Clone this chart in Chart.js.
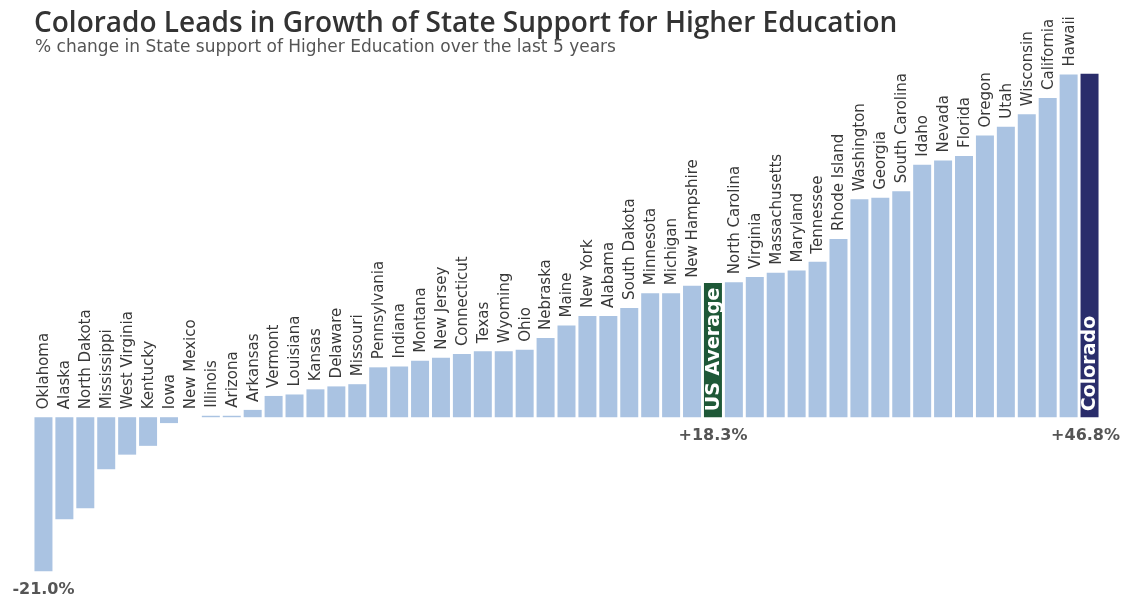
<!DOCTYPE html>
<html>
<head>
<meta charset="utf-8">
<script src="https://cdn.jsdelivr.net/npm/chart.js@4"></script>
<style>
  html, body { margin: 0; padding: 0; background: #fff; }
  canvas { display: block; }
</style>
</head>
<body>
<canvas id="growthChart" width="1123" height="600"></canvas>
<script>
// % change in state support for higher education, last 5 years
const states = [
    'Oklahoma', 'Alaska', 'North Dakota', 'Mississippi', 'West Virginia', 'Kentucky', 'Iowa',
    'New Mexico', 'Illinois', 'Arizona', 'Arkansas', 'Vermont', 'Louisiana', 'Kansas',
    'Delaware', 'Missouri', 'Pennsylvania', 'Indiana', 'Montana', 'New Jersey', 'Connecticut',
    'Texas', 'Wyoming', 'Ohio', 'Nebraska', 'Maine', 'New York', 'Alabama', 'South Dakota',
    'Minnesota', 'Michigan', 'New Hampshire', 'US Average', 'North Carolina', 'Virginia',
    'Massachusetts', 'Maryland', 'Tennessee', 'Rhode Island', 'Washington', 'Georgia',
    'South Carolina', 'Idaho', 'Nevada', 'Florida', 'Oregon', 'Utah', 'Wisconsin',
    'California', 'Hawaii', 'Colorado'
];
const pctChange = [
    -21.0, -13.9, -12.4, -7.1, -5.1, -3.9, -0.8,
    0.0, 0.2, 0.2, 1.0, 2.9, 3.1, 3.8,
    4.2, 4.5, 6.8, 6.9, 7.7, 8.1, 8.6,
    9.0, 9.0, 9.2, 10.8, 12.5, 13.8, 13.8, 14.9,
    16.9, 16.9, 17.9, 18.3, 18.4, 19.1,
    19.7, 20.0, 21.2, 24.3, 29.7, 29.9,
    30.8, 34.4, 35.0, 35.6, 38.4, 39.6, 41.3,
    43.5, 46.7, 46.8
];
// bars that carry their name inside the bar
const highlighted = ['US Average', 'Colorado'];
// bars that get a value callout underneath
const callouts = ['Oklahoma', 'US Average', 'Colorado'];

const titleText = 'Colorado Leads in Growth of State Support for Higher Education';
const subtitleText = '% change in State support of Higher Education over the last 5 years';

function barColor(name) {
    if (name === 'US Average') return '#1e5837';
    if (name === 'Colorado') return '#2a2d6b';
    return '#aac3e2';
}

function fmtPct(v) {
    return (v > 0 ? '+' : '') + v.toFixed(1) + '%';
}

const labelPlugin = {
    id: 'labelPlugin',
    afterDatasetsDraw(chart) {
        const ctx = chart.ctx;
        const bars = chart.getDatasetMeta(0).data;

        // title + subtitle
        ctx.save();
        ctx.fillStyle = '#333';
        ctx.textAlign = 'left';
        ctx.textBaseline = 'alphabetic';
        ctx.font = '600 28px "Open Sans"';
        ctx.fillText(titleText, 34, 32);
        ctx.fillStyle = '#555';
        ctx.font = '17px "DejaVu Sans"';
        ctx.fillText(subtitleText, 35, 52);
        ctx.restore();

        bars.forEach((bar, i) => {
            const name = states[i];
            ctx.save();
            ctx.textAlign = 'left';
            ctx.textBaseline = 'middle';
            if (highlighted.includes(name)) {
                ctx.translate(bar.x, bar.base);
                ctx.rotate(-Math.PI / 2);
                ctx.font = 'bold 19px "DejaVu Sans"';
                ctx.fillStyle = '#fff';
                ctx.fillText(name, 6, 1);
            } else {
                const top = Math.min(bar.y, bar.base);
                ctx.translate(bar.x, top);
                ctx.rotate(-Math.PI / 2);
                ctx.font = '15px "DejaVu Sans"';
                ctx.fillStyle = '#383838';
                ctx.fillText(name, 8, 1);
            }
            ctx.restore();
        });

        // value callouts
        ctx.save();
        ctx.font = 'bold 16px "DejaVu Sans"';
        ctx.fillStyle = '#555';
        ctx.textAlign = 'center';
        ctx.textBaseline = 'middle';
        callouts.forEach(name => {
            const i = states.indexOf(name);
            const bar = bars[i];
            const txt = fmtPct(pctChange[i]);
            const w = ctx.measureText(txt).width;
            let x = bar.x;
            x = Math.max(x, w / 2 + 4);
            x = Math.min(x, chart.width - w / 2 - 3);
            const y = Math.max(bar.y, bar.base) + 19;
            ctx.fillText(txt, x, y);
        });
        ctx.restore();
    }
};

new Chart(document.getElementById('growthChart').getContext('2d'), {
    type: 'bar',
    data: {
        labels: states,
        datasets: [{
            data: pctChange,
            backgroundColor: states.map(barColor),
            borderWidth: 0,
            barPercentage: 0.86,
            categoryPercentage: 1.0
        }]
    },
    options: {
        responsive: false,
        animation: false,
        devicePixelRatio: 1,
        layout: {
            padding: { top: 65, bottom: 14, left: 33, right: 23 }
        },
        scales: {
            x: { display: false },
            y: { display: false, min: -23, max: 48 }
        },
        plugins: {
            legend: { display: false },
            tooltip: { enabled: false },
            title: { display: false }
        }
    },
    plugins: [labelPlugin]
});
</script>
</body>
</html>
